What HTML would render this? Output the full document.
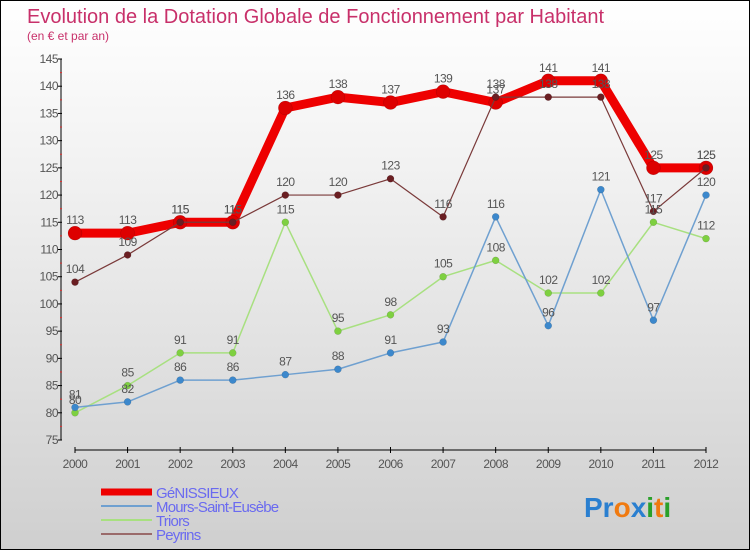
<!DOCTYPE html>
<html><head><meta charset="utf-8"><style>
body{margin:0}
#c{position:relative;width:748px;height:548px;border:1px solid #000;background:linear-gradient(#fff,#f2f2f2 30%,#cfcfcf);font-family:"Liberation Sans",sans-serif;overflow:hidden}
</style></head><body>
<div id="c">
<svg id="s" width="748" height="548">
<text x="26" y="22" font-size="20" fill="#c8306a">Evolution de la Dotation Globale de Fonctionnement par Habitant</text>
<text x="26" y="39" font-size="12" fill="#c8306a">(en € et par an)</text>
<text x="583" y="516" font-size="28" font-weight="bold"><tspan fill="#2a7fd0">Pr</tspan><tspan fill="#f07a10">o</tspan><tspan fill="#2a7fd0">x</tspan><tspan fill="#2aa02a">i</tspan><tspan fill="#f07a10">t</tspan><tspan fill="#2aa02a">i</tspan></text>
</svg>
</div>
<script>
const years=["2000","2001","2002","2003","2004","2005","2006","2007","2008","2009","2010","2011","2012"];
const genissieux=[113,113,115,115,136,138,137,139,137,141,141,125,125];
const mours=[81,82,86,86,87,88,91,93,116,96,121,97,120];
const triors=[80,85,91,91,115,95,98,105,108,102,102,115,112];
const peyrins=[104,109,115,115,120,120,123,116,138,138,138,117,125];
const yTicks=[75,80,85,90,95,100,105,110,115,120,125,130,135,140,145];
const NS="http://www.w3.org/2000/svg";
const svg=document.getElementById('s');
const X=i=>74+i*(631/12);
const Y=v=>439-(v-75)*(381/70);
function mk(t,a,p){const e=document.createElementNS(NS,t);for(const k in a)e.setAttribute(k,a[k]);(p||svg).appendChild(e);return e;}
const ax=mk('g',{});


mk('line',{x1:60,y1:Y(145),x2:60,y2:Y(75),stroke:'#000','stroke-width':1},ax);
mk('line',{x1:X(0),y1:449,x2:X(12),y2:449,stroke:'#000','stroke-width':1},ax);
yTicks.forEach(v=>{
 mk('line',{x1:57,y1:Y(v),x2:61,y2:Y(v),stroke:'#000'},ax);
 if(v<145)mk('line',{x1:59,y1:Y(v+2.5),x2:61,y2:Y(v+2.5),stroke:'#e03030'},ax);
 const t=mk('text',{x:57,y:Y(v)+4,'font-size':12,'text-anchor':'end',fill:'#555','letter-spacing':'-0.5'},ax);
 
 
 t.textContent=v;
});
years.forEach((y,i)=>{
 mk('line',{x1:X(i),y1:446,x2:X(i),y2:452,stroke:'#000'},ax);
 const t=mk('text',{x:X(i),y:467,'font-size':12,'text-anchor':'middle',fill:'#555','letter-spacing':'-0.5'},ax);
 
 
 t.textContent=y;
});
function series(name,data,color,w,r,dot){
 const g=mk('g',{});
 
 
 mk('polyline',{points:data.map((v,i)=>X(i)+','+Y(v)).join(' '),fill:'none',stroke:color,'stroke-width':w,'stroke-linejoin':'round'},g);
 data.forEach((v,i)=>{
  const c=mk('circle',{cx:X(i),cy:Y(v),r:r,fill:dot,stroke:'rgba(0,0,0,0.2)','stroke-width':0.5},g);
  
  
  const t=mk('text',{x:X(i),y:Y(v)-9,'font-size':12,'text-anchor':'middle',fill:'#555','letter-spacing':'-0.5'},g);
  
  
  t.textContent=v;
 });
}
series('genissieux',genissieux,'#ee0000',9,7,'#dd0000');
series('peyrins',peyrins,'#7a3a3a',1.2,3.5,'#6a1e22');
series('triors',triors,'#a8e080',1.5,3.5,'#7ed040');
series('mours',mours,'#6fa0d0',1.5,3.5,'#3c88cc');
const leg=[['GéNISSIEUX','#ee0000',7],['Mours-Saint-Eusèbe','#6fa0d0',2],['Triors','#a8e080',2],['Peyrins','#9a6a6a',2]];
leg.forEach((l,i)=>{
 const g=mk('g',{});
 
 
 const y=491+i*14;
 mk('line',{x1:100,y1:y,x2:151,y2:y,stroke:l[1],'stroke-width':l[2]},g);
 const t=mk('text',{x:155,y:y+6,'font-size':15,fill:'#6a6af0','letter-spacing':'-0.8'},g);
 t.textContent=l[0];
});
</script>
</body></html>
